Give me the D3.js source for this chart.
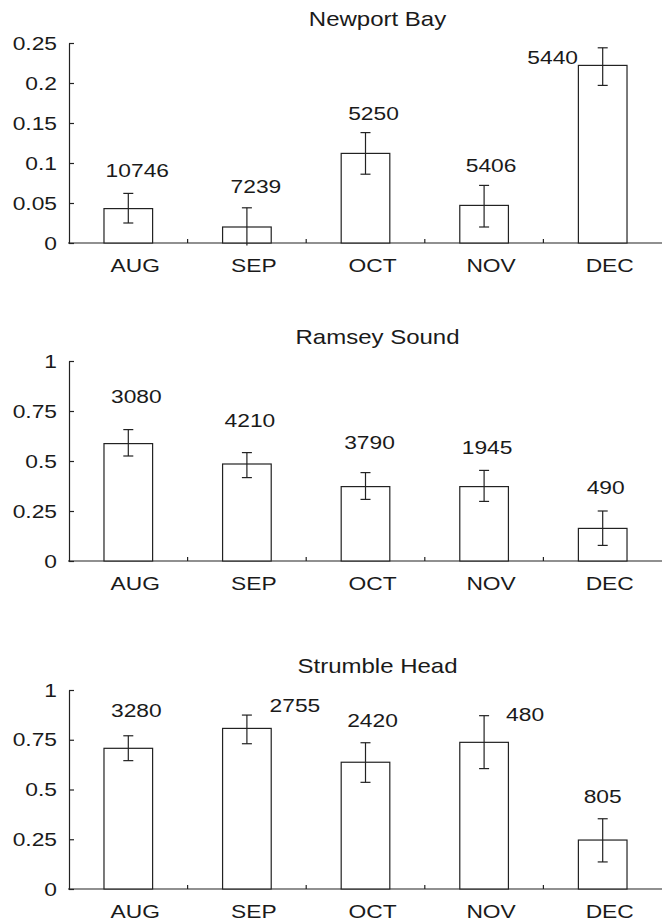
<!DOCTYPE html>
<html>
<head>
<meta charset="utf-8">
<script src="https://cdn.jsdelivr.net/npm/d3@7"></script>
<style>
  body { margin: 0; background: #fff; }
  text { font-family: "Liberation Sans", Arial, Helvetica, sans-serif; fill: #1a1a1a; }
</style>
</head>
<body>
<div class="chart"></div>
<script>
const months = ["AUG", "SEP", "OCT", "NOV", "DEC"]

// Newport Bay
const newportMean = [0.043, 0.020, 0.112, 0.047, 0.222]
const newportLow  = [0.025, -0.003, 0.086, 0.020, 0.197]
const newportHigh = [0.062, 0.044, 0.138, 0.072, 0.244]
const newportN    = ["10746", "7239", "5250", "5406", "5440"]

// Ramsey Sound
const ramseyMean = [0.587, 0.485, 0.372, 0.372, 0.163]
const ramseyLow  = [0.525, 0.417, 0.308, 0.298, 0.078]
const ramseyHigh = [0.657, 0.542, 0.442, 0.453, 0.250]
const ramseyN    = ["3080", "4210", "3790", "1945", "490"]

// Strumble Head
const strumbleMean = [0.707, 0.807, 0.637, 0.737, 0.246]
const strumbleLow  = [0.645, 0.730, 0.536, 0.605, 0.136]
const strumbleHigh = [0.770, 0.874, 0.735, 0.871, 0.353]
const strumbleN    = ["3280", "2755", "2420", "480", "805"]

const width = 662, height = 922
const left = 69, right = 662
const sx = 1.2   // the original lettering is a bit wide

const panels = [
  {title: "Newport Bay", mean: newportMean, lo: newportLow, hi: newportHigh, n: newportN,
   max: 0.25, ticks: [0, 0.05, 0.1, 0.15, 0.2, 0.25], top: 43, bottom: 243,
   noteDx: [9, 9, 8, 7, -50], noteAt: [0.0825, 0.0625, 0.154, 0.089, 0.224]},
  {title: "Ramsey Sound", mean: ramseyMean, lo: ramseyLow, hi: ramseyHigh, n: ramseyN,
   max: 1, ticks: [0, 0.25, 0.5, 0.75, 1], top: 361, bottom: 561,
   noteDx: [8, 3, 4, 3, 3], noteAt: [0.79, 0.67, 0.56, 0.535, 0.335]},
  {title: "Strumble Head", mean: strumbleMean, lo: strumbleLow, hi: strumbleHigh, n: strumbleN,
   max: 1, ticks: [0, 0.25, 0.5, 0.75, 1], top: 690, bottom: 889,
   noteDx: [8, 48, 7, 41, 0], noteAt: [0.866, 0.891, 0.814, 0.844, 0.434]}
]

const svg = d3.select(".chart").append("svg")
  .attr("width", width)
  .attr("height", height)

const xScale = d3.scaleBand().domain(months).range([left, right]).padding(0)
const barW = xScale.bandwidth() * 0.41
const mid = d => xScale(d) + xScale.bandwidth() / 2

// stretched text helper
function label(g, x, y, txt, size) {
  g.append("text")
    .attr("transform", `translate(${x},${y}) scale(${sx},1)`)
    .attr("text-anchor", "middle")
    .attr("font-size", size)
    .text(txt)
}

panels.forEach(p => {
  const g = svg.append("g")
  const yScale = d3.scaleLinear().domain([0, p.max]).range([p.bottom, p.top])

  label(g, (left + right) / 2 + 12, p.top - 17, p.title, "20px")

  // y axis, ticks pointing inward
  const yAxis = d3.axisLeft(yScale)
    .tickValues(p.ticks)
    .tickFormat(d3.format("~g"))
    .tickSizeInner(-5)
    .tickSizeOuter(0)
    .tickPadding(12)
  const ya = g.append("g")
    .attr("class", "axis y-axis")
    .attr("transform", `translate(${left},0)`)
    .call(yAxis)
  ya.selectAll("text")
    .attr("font-size", "19px")
    .attr("font-family", null)
    .attr("fill", null)
    .attr("transform", `scale(${sx},1)`)
    .attr("x", function() { return +this.getAttribute("x") / sx })

  // x axis: line with small inward ticks between months
  const bounds = months.slice(1).map(d => xScale(d))
  const xa = g.append("g").attr("class", "axis x-axis")
  xa.append("line")
    .attr("x1", left - 1).attr("x2", right)
    .attr("y1", yScale(0)).attr("y2", yScale(0))
  xa.selectAll("tick").data(bounds).enter().append("line")
    .attr("x1", d => d).attr("x2", d => d)
    .attr("y1", yScale(0)).attr("y2", yScale(0) - 4)
  months.forEach(m => label(xa, mid(m) + 7, p.bottom + 29, m, "19px"))

  g.selectAll(".domain, .tick line, .x-axis line")
    .attr("stroke", "#222").attr("stroke-width", 1.2)

  // bars
  g.selectAll("rect").data(months).enter().append("rect")
    .attr("x", d => mid(d) - barW / 2)
    .attr("y", (d, i) => yScale(p.mean[i]))
    .attr("width", barW)
    .attr("height", (d, i) => yScale(0) - yScale(p.mean[i]))
    .attr("fill", "#fff")
    .attr("stroke", "#222")
    .attr("stroke-width", 1.2)

  // error bars
  const eb = g.append("g").attr("stroke", "#222").attr("stroke-width", 1.2)
  months.forEach((m, i) => {
    const cx = mid(m)
    eb.append("line").attr("x1", cx).attr("x2", cx)
      .attr("y1", yScale(p.hi[i])).attr("y2", yScale(p.lo[i]))
    eb.append("line").attr("x1", cx - 5).attr("x2", cx + 5)
      .attr("y1", yScale(p.hi[i])).attr("y2", yScale(p.hi[i]))
    if (p.lo[i] > 0) {
      eb.append("line").attr("x1", cx - 5).attr("x2", cx + 5)
        .attr("y1", yScale(p.lo[i])).attr("y2", yScale(p.lo[i]))
    }
  })

  // sample sizes
  months.forEach((m, i) => label(g, mid(m) + p.noteDx[i], yScale(p.noteAt[i]), p.n[i], "19px"))
})
</script>
</body>
</html>
